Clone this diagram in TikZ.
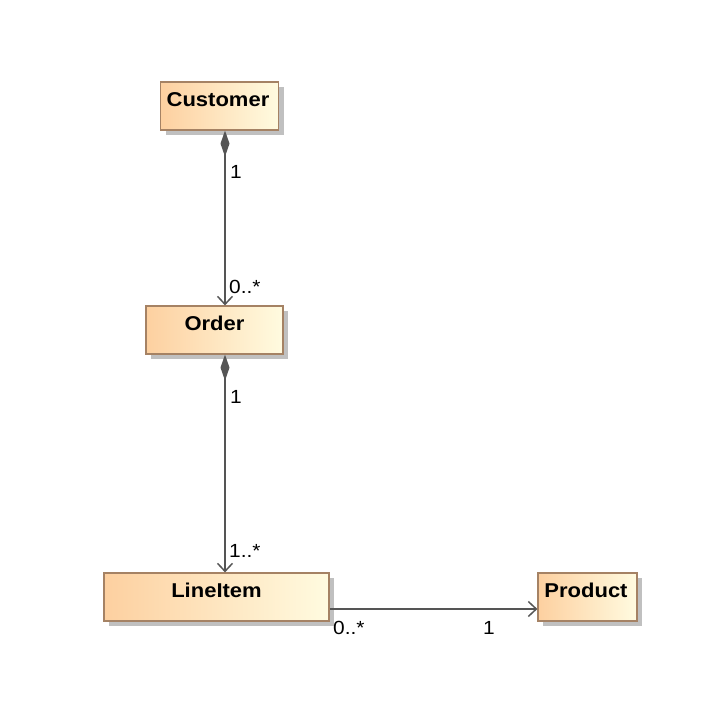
\documentclass[tikz,border=0pt]{standalone}
\usepackage{fontspec}
\setmainfont{Liberation Sans}[FakeStretch=1.1]
\usetikzlibrary{arrows.meta,shadows}
\definecolor{boxL}{RGB}{253,208,160}
\definecolor{boxR}{RGB}{255,251,224}
\definecolor{boxB}{RGB}{165,130,100}
\definecolor{shad}{RGB}{192,192,192}
\definecolor{lnc}{RGB}{85,85,85}
\tikzset{
  cls/.style={draw=boxB, line width=1.2pt, left color=boxL, right color=boxR, inner sep=0pt,
    drop shadow={shadow xshift=5pt, shadow yshift=-5pt, fill=shad, opacity=1}},
  cname/.style={font=\fontsize{20}{22}\selectfont\bfseries, inner sep=0pt},
  mult/.style={font=\fontsize{19}{21}\selectfont, inner sep=0pt, anchor=west, text=black},
  conn/.style={draw=lnc, line width=1.5pt},
  comp/.style={conn, {Diamond[length=26pt,width=9pt,fill=lnc]}-{Straight Barb[length=8pt,width=15pt,line width=1.5pt]}},
  assoc/.style={conn, -{Straight Barb[length=8pt,width=15pt,line width=1.5pt]}}
}
\begin{document}
\begin{tikzpicture}[x=1pt,y=-1pt]
\useasboundingbox (0,0) rectangle (704,716);
% classes
\node[cls, minimum width=118pt, minimum height=48pt] (cust) at (219.5,106) {};
\node[cls, minimum width=137pt, minimum height=48pt] (order) at (214.5,330) {};
\node[cls, minimum width=225pt, minimum height=48pt] (item) at (216.5,597) {};
\node[cls, minimum width=99pt, minimum height=48pt] (prod) at (587.5,597) {};
\node[cname] (custn) at (218,100) {Customer};
\node[cname] (ordern) at (214.5,323) {Order};
\node[cname] (itemn) at (216.5,590) {LineItem};
\node[cname] (prodn) at (586,590) {Product};
% connectors
\draw[comp] ([xshift=5.5pt]cust.south) -- ([xshift=10.5pt]order.north);
\draw[comp] ([xshift=10.5pt]order.south) -- ([xshift=8.5pt]item.north);
\draw[assoc] ([yshift=-12pt]item.east) -- ([yshift=-12pt]prod.west);
% multiplicities
\node[mult] (m1) at (230,172) {1};
\node[mult] (m2) at (229,287) {0..*};
\node[mult] (m3) at (230,397) {1};
\node[mult] (m4) at (229,551) {1..*};
\node[mult] (m5) at (333,628) {0..*};
\node[mult] (m6) at (483,628) {1};
\end{tikzpicture}
\end{document}
